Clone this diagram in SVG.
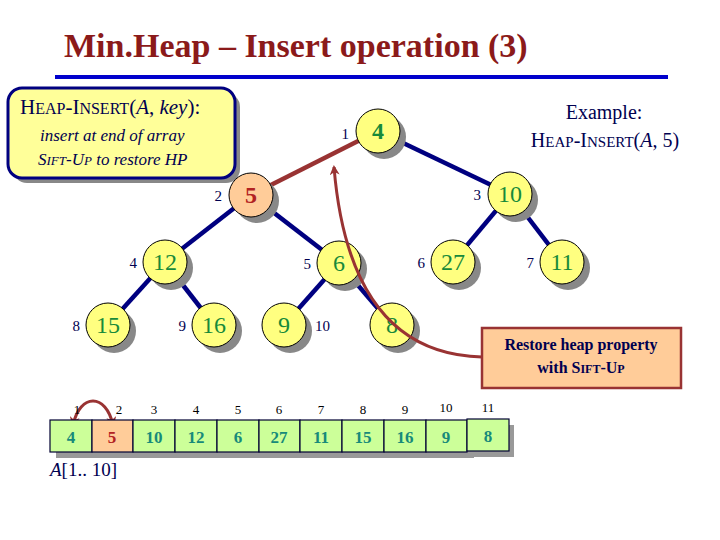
<svg xmlns="http://www.w3.org/2000/svg" width="720" height="540" viewBox="0 0 720 540">
<defs>
<style>
.n circle.s{fill:#888}
.n circle.f{fill:#ffff80;stroke:#000;stroke-width:1}
text{font-family:"Liberation Serif","Times New Roman",serif}
.v{font-size:24px;fill:#178a3a;text-anchor:middle}
.i{font-size:15px;fill:#000050;text-anchor:end}
.e{stroke:#000080;stroke-width:4.5}
.cell{fill:#ccff99;stroke:#000033;stroke-width:1.2}
.ct{font-size:17px;font-weight:bold;fill:#178a7a;text-anchor:middle}
.ix{font-size:13px;fill:#000;text-anchor:middle}
</style>
<marker id="ah" markerWidth="10" markerHeight="10" refX="8" refY="5" orient="auto-start-reverse" markerUnits="userSpaceOnUse"><path d="M0,0 L10,5 L0,10 L3,5 Z" fill="#993333"/></marker>
</defs>
<rect width="720" height="540" fill="#fff"/>
<text x="64" y="57" font-size="34" font-weight="bold" fill="#8b1a1a">Min.Heap – Insert operation (3)</text>
<rect x="55" y="75" width="613" height="4" fill="#0000cc"/>
<g id="desc">
<rect x="13" y="93" width="227" height="90" rx="14" fill="#888"/>
<rect x="8" y="88" width="227" height="90" rx="14" fill="#ffff99" stroke="#000080" stroke-width="3"/>
<text x="20" y="114" font-size="21" fill="#000050">H<tspan font-size="16">EAP</tspan>-I<tspan font-size="16">NSERT</tspan>(<tspan font-style="italic">A</tspan>, <tspan font-style="italic">key</tspan>):</text>
<text x="40" y="141" font-size="17" font-style="italic" fill="#000050">insert at end of array</text>
<text x="38" y="165" font-size="17" font-style="italic" fill="#000050">S<tspan font-size="13">IFT</tspan>-U<tspan font-size="13">P</tspan> to restore HP</text>
</g>
<g id="example" font-size="20" fill="#000050" text-anchor="middle">
<text x="604" y="119">Example:</text>
<text x="605" y="147">H<tspan font-size="15">EAP</tspan>-I<tspan font-size="15">NSERT</tspan>(<tspan font-style="italic">A</tspan>, 5)</text>
</g>
<g id="connectors">
<line x1="378" y1="131" x2="251" y2="195" stroke="#993333" stroke-width="4.5"/>
<line class="e" x1="378" y1="131" x2="510" y2="194"/>
<line class="e" x1="251" y1="195" x2="165" y2="262"/>
<line class="e" x1="251" y1="195" x2="339" y2="263"/>
<line class="e" x1="510" y1="194" x2="453" y2="262"/>
<line class="e" x1="510" y1="194" x2="562" y2="262"/>
<line class="e" x1="165" y1="262" x2="108" y2="325"/>
<line class="e" x1="165" y1="262" x2="214" y2="325"/>
<line class="e" x1="339" y1="263" x2="284" y2="325"/>
<line class="e" x1="339" y1="263" x2="392" y2="325"/>
</g>
<g id="n1" class="n"><circle class="s" cx="384" cy="137" r="22"/><circle class="f" cx="378" cy="131" r="22"/><text class="v" x="378" y="139" font-weight="bold" font-size="22">4</text><text class="i" x="349" y="139">1</text></g>
<g id="n2" class="n"><circle class="s" cx="257" cy="201" r="22"/><circle class="f" cx="251" cy="195" r="22" style="fill:#ffcc99"/><text class="v" x="251" y="203" font-weight="bold" style="fill:#b22222">5</text><text class="i" x="222" y="201">2</text></g>
<g id="n3" class="n"><circle class="s" cx="516" cy="200" r="22"/><circle class="f" cx="510" cy="194" r="22"/><text class="v" x="510" y="202">10</text><text class="i" x="481" y="200">3</text></g>
<g id="n4" class="n"><circle class="s" cx="171" cy="268" r="22"/><circle class="f" cx="165" cy="262" r="22"/><text class="v" x="165" y="270">12</text><text class="i" x="137" y="268">4</text></g>
<g id="n5" class="n"><circle class="s" cx="345" cy="269" r="22"/><circle class="f" cx="339" cy="263" r="22"/><text class="v" x="339" y="271">6</text><text class="i" x="311" y="269">5</text></g>
<g id="n6" class="n"><circle class="s" cx="459" cy="268" r="22"/><circle class="f" cx="453" cy="262" r="22"/><text class="v" x="453" y="270">27</text><text class="i" x="425" y="268">6</text></g>
<g id="n7" class="n"><circle class="s" cx="568" cy="268" r="22"/><circle class="f" cx="562" cy="262" r="22"/><text class="v" x="562" y="270">11</text><text class="i" x="534" y="268">7</text></g>
<g id="n8" class="n"><circle class="s" cx="114" cy="331" r="22"/><circle class="f" cx="108" cy="325" r="22"/><text class="v" x="108" y="333">15</text><text class="i" x="80" y="331">8</text></g>
<g id="n9" class="n"><circle class="s" cx="220" cy="331" r="22"/><circle class="f" cx="214" cy="325" r="22"/><text class="v" x="214" y="333">16</text><text class="i" x="186" y="331">9</text></g>
<g id="n10" class="n"><circle class="s" cx="290" cy="331" r="22"/><circle class="f" cx="284" cy="325" r="22"/><text class="v" x="284" y="333">9</text><text class="i" x="330" y="331">10</text></g>
<g id="n11" class="n"><circle class="s" cx="398" cy="331" r="22"/><circle class="f" cx="392" cy="325" r="22"/><text class="v" x="392" y="333">8</text></g>
<g id="arrows">
<path d="M482,357 C400,355 345,300 334,167" fill="none" stroke="#993333" stroke-width="3" marker-end="url(#ah)"/>
<path d="M73,425 C80,393 106,393 113,425" fill="none" stroke="#993333" stroke-width="3" marker-start="url(#ah)" marker-end="url(#ah)"/>
</g>
<g id="restore">
<rect x="482" y="328" width="199" height="60" fill="#ffcc99" stroke="#993333" stroke-width="2.5"/>
<text x="581" y="350" font-size="16" font-weight="bold" fill="#000050" text-anchor="middle">Restore heap property</text>
<text x="581" y="373" font-size="16" font-weight="bold" fill="#000050" text-anchor="middle">with S<tspan font-size="12">IFT</tspan>-U<tspan font-size="12">P</tspan></text>
</g>
<g id="array">
<rect x="56" y="426" width="418" height="32" fill="#999"/>
<rect x="472" y="425" width="42" height="32" fill="#999"/>
<rect class="cell" x="50" y="420" width="42" height="32"/>
<rect class="cell" x="92" y="420" width="41" height="32" style="fill:#ffcc99"/>
<rect class="cell" x="133" y="420" width="42" height="32"/>
<rect class="cell" x="175" y="420" width="42" height="32"/>
<rect class="cell" x="217" y="420" width="42" height="32"/>
<rect class="cell" x="259" y="420" width="41" height="32"/>
<rect class="cell" x="300" y="420" width="42" height="32"/>
<rect class="cell" x="342" y="420" width="42" height="32"/>
<rect class="cell" x="384" y="420" width="42" height="32"/>
<rect class="cell" x="426" y="420" width="41" height="32"/>
<rect class="cell" x="467" y="419" width="42" height="32"/>
<text class="ct" x="71" y="443">4</text>
<text class="ct" x="112" y="443" style="fill:#b22222">5</text>
<text class="ct" x="154" y="443">10</text>
<text class="ct" x="196" y="443">12</text>
<text class="ct" x="238" y="443">6</text>
<text class="ct" x="279" y="443">27</text>
<text class="ct" x="321" y="443">11</text>
<text class="ct" x="363" y="443">15</text>
<text class="ct" x="405" y="443">16</text>
<text class="ct" x="446" y="443">9</text>
<text class="ct" x="488" y="442">8</text>
<text class="ix" x="77" y="414">1</text>
<text class="ix" x="119" y="414">2</text>
<text class="ix" x="154" y="414">3</text>
<text class="ix" x="196" y="414">4</text>
<text class="ix" x="238" y="414">5</text>
<text class="ix" x="279" y="414">6</text>
<text class="ix" x="321" y="414">7</text>
<text class="ix" x="363" y="414">8</text>
<text class="ix" x="405" y="414">9</text>
<text class="ix" x="446" y="412">10</text>
<text class="ix" x="488" y="412">11</text>
<text x="50" y="476" font-size="19" fill="#000050"><tspan font-style="italic">A</tspan>[1.. 10]</text>
</g>
</svg>
